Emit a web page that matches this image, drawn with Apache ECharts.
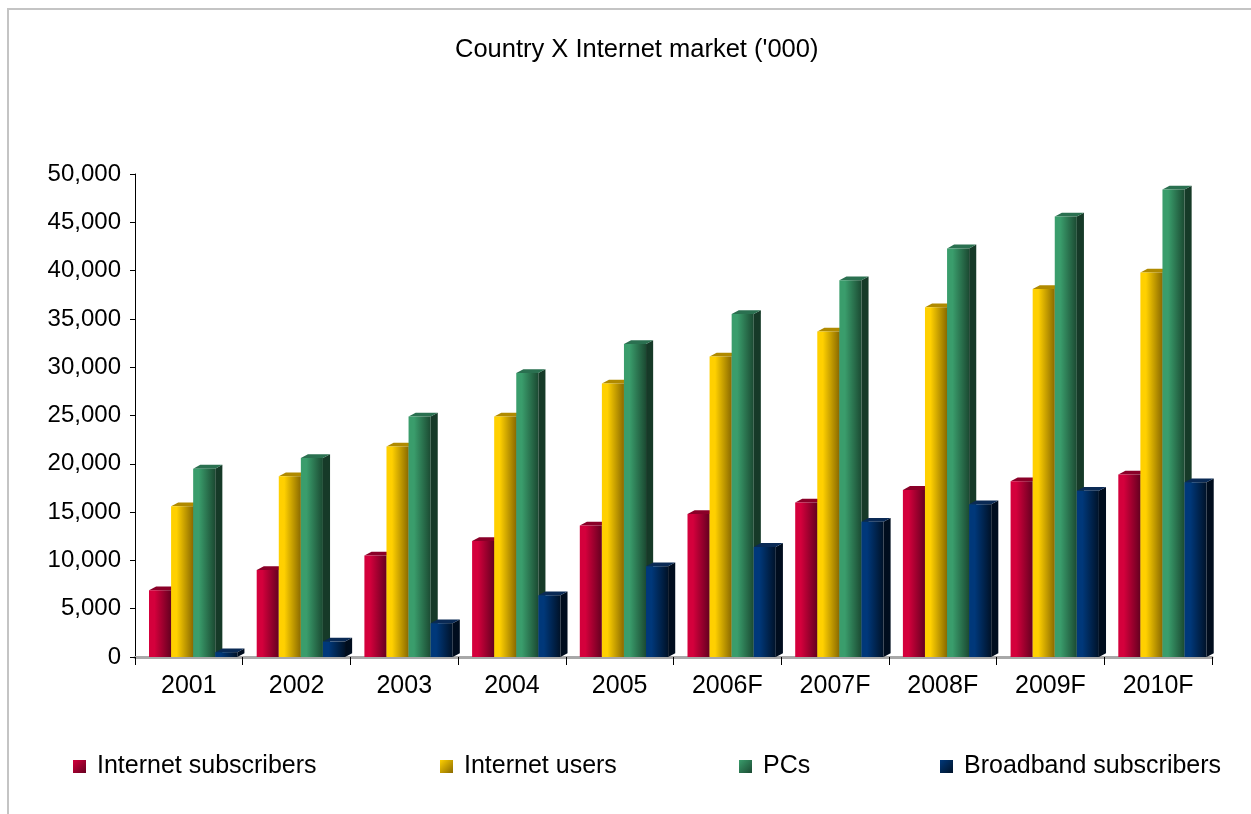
<!DOCTYPE html>
<html>
<head>
<meta charset="utf-8">
<script src="https://cdn.jsdelivr.net/npm/echarts@6/dist/echarts.min.js"></script>
<style>
  html, body { margin: 0; padding: 0; background: #ffffff; }
  #chart { width: 1251px; height: 814px; }
</style>
</head>
<body>
<div id="chart"></div>
<script>
// Country X internet market, thousands
const categories = ['2001', '2002', '2003', '2004', '2005', '2006F', '2007F', '2008F', '2009F', '2010F'];
const internetSubscribers = [6900, 9000, 10500, 12000, 13600, 14800, 16000, 17300, 18200, 18900];
const internetUsers = [15600, 18700, 21800, 24900, 28300, 31100, 33700, 36200, 38100, 39800];
const pcs = [19500, 20600, 24900, 29400, 32400, 35500, 39000, 42300, 45600, 48400];
const broadbandSubscribers = [500, 1600, 3500, 6400, 9400, 11400, 14000, 15800, 17200, 18100];
const yTicks = { min: 0, max: 50000, interval: 5000 };

const seriesDefs = [
  { name: 'Internet subscribers', data: internetSubscribers, light: '#d4003c', dark: '#650020', side: '#4a0016', top: '#8a0028' },
  { name: 'Internet users', data: internetUsers, light: '#ffd000', dark: '#8a6a00', side: '#5e4800', top: '#b08a00' },
  { name: 'PCs', data: pcs, light: '#3a9d6c', dark: '#1b4a32', side: '#163a28', top: '#2a7050' },
  { name: 'Broadband subscribers', data: broadbandSubscribers, light: '#00387a', dark: '#001228', side: '#000d1e', top: '#0a2a55' }
];

const G = echarts.graphic;
const FONT = 'Liberation Sans, Arial, sans-serif';

// 3D-looking clustered column: front face, right side and top cap
function makeRenderer(k, def) {
  return function (params, api) {
    const idx = api.value(0);
    const val = api.value(1);
    const base = api.coord([idx, 0]);
    const top = api.coord([idx, val]);
    const band = api.size([1, 0])[0];
    const w = band * 0.205;
    const dx = band * 0.066;
    const dy = band * 0.035;
    const x0 = base[0] - band / 2 + band * 0.13 + k * w;
    const yT = top[1], yB = base[1];
    return {
      type: 'group',
      children: [
        {
          type: 'polygon',
          shape: { points: [[x0 + w, yT], [x0 + w + dx, yT - dy], [x0 + w + dx, yB - dy], [x0 + w, yB]] },
          style: { fill: def.side }
        },
        {
          type: 'polygon',
          shape: { points: [[x0, yT], [x0 + dx, yT - dy], [x0 + w + dx, yT - dy], [x0 + w, yT]] },
          style: { fill: def.top }
        },
        {
          type: 'rect',
          shape: { x: x0, y: yT, width: w, height: yB - yT },
          style: {
            fill: new G.LinearGradient(0, 0, 1, 0, [
              { offset: 0, color: def.light },
              { offset: 0.25, color: def.light },
              { offset: 1, color: def.dark }
            ])
          }
        }
      ]
    };
  };
}

const series = seriesDefs.map((def, k) => ({
  type: 'custom',
  name: def.name,
  renderItem: makeRenderer(k, def),
  encode: { x: 0, y: 1 },
  clip: false,
  itemStyle: {
    color: new G.LinearGradient(0, 0, 1, 1, [
      { offset: 0, color: def.light },
      { offset: 1, color: def.dark }
    ])
  },
  data: def.data.map((v, i) => [i, v])
}));

const legendLeft = [73, 440, 739, 940];
const legends = seriesDefs.map((def, k) => ({
  data: [def.name],
  left: legendLeft[k],
  top: 754,
  padding: 0,
  icon: 'rect',
  itemWidth: 13,
  itemHeight: 13,
  textStyle: { fontFamily: FONT, fontSize: 25, color: '#000', padding: [0, 0, 0, 6] }
}));

const chart = echarts.init(document.getElementById('chart'), null, { renderer: 'canvas' });
chart.setOption({
  animation: false,
  backgroundColor: '#ffffff',
  title: {
    text: "Country X Internet market ('000)",
    left: 450,
    top: 32,
    textStyle: { fontFamily: FONT, fontSize: 25.5, fontWeight: 'normal', color: '#000' }
  },
  graphic: [{
    type: 'rect',
    shape: { x: 8, y: 9, width: 1400, height: 1000 },
    style: { fill: 'none', stroke: '#c4c4c4', lineWidth: 2 },
    silent: true
  }],
  legend: legends,
  grid: { left: 135, right: 39, top: 174, bottom: 157, containLabel: false },
  xAxis: {
    type: 'category',
    data: categories,
    axisLine: { lineStyle: { color: '#a8a8a8', width: 3 } },
    axisTick: { show: true, length: 8, lineStyle: { color: '#000', width: 1 } },
    axisLabel: { fontFamily: FONT, fontSize: 25, color: '#000', margin: 17 },
    splitLine: { show: false }
  },
  yAxis: {
    type: 'value',
    min: yTicks.min,
    max: yTicks.max,
    interval: yTicks.interval,
    axisLine: { show: true, lineStyle: { color: '#000', width: 1 } },
    axisTick: { show: true, length: 5, lineStyle: { color: '#000' } },
    axisLabel: {
      fontFamily: FONT, fontSize: 24, color: '#000', margin: 14,
      formatter: v => v.toLocaleString('en-US')
    },
    splitLine: { show: false }
  },
  series: series
});
</script>
</body>
</html>
